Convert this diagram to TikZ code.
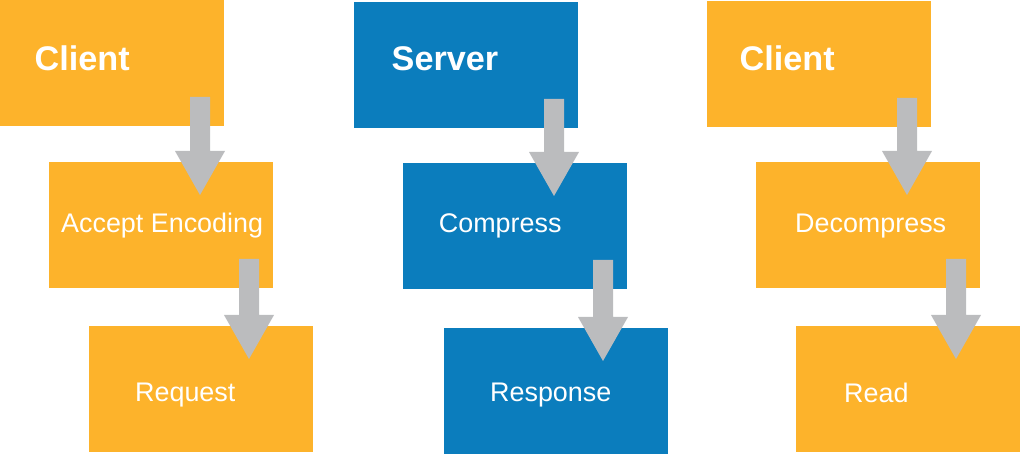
\documentclass[tikz,border=0pt]{standalone}
\usepackage{fontspec}
\setmainfont{Liberation Sans}
\usetikzlibrary{calc}
\definecolor{boxorange}{HTML}{FDB32B}
\definecolor{boxblue}{HTML}{0B7DBD}
\definecolor{arrowgray}{HTML}{BBBCBE}
\tikzset{
  box/.style={rectangle, inner sep=0pt, outer sep=0pt, minimum width=224pt, minimum height=126pt},
  obox/.style={box, fill=boxorange},
  bbox/.style={box, fill=boxblue},
  title/.style={anchor=base west, inner sep=0pt, text=white, font=\fontsize{34.2}{40}\selectfont\bfseries},
  step text/.style={anchor=base west, inner sep=0pt, text=white, font=\fontsize{26.9}{32}\selectfont},
  blk/.style={fill=arrowgray}
}
\newcommand\blkarrow[2]{%
  \fill[blk] ($(#1.south east)+(-34,-29)$) -- ($(#1.south east)+(-14,-29)$)
    -- ($(#1.south east |- #2.north)+(-14,-11)$) -- ($(#1.south east |- #2.north)+(1,-11)$)
    -- ($(#1.south east |- #2.north)+(-24,33)$) -- ($(#1.south east |- #2.north)+(-49,-11)$)
    -- ($(#1.south east |- #2.north)+(-34,-11)$) -- cycle;}
\begin{document}
\begin{tikzpicture}[x=1pt, y=-1pt]
\useasboundingbox (0,0) rectangle (1021,454);
% column 1
\node[obox] (c1) at (112,63) {};
\node[obox] (ae) at (161,225) {};
\node[obox] (rq) at (201,389) {};
% column 2
\node[bbox] (sv) at (466,65) {};
\node[bbox] (cp) at (515,226) {};
\node[bbox] (rs) at (556,391) {};
% column 3
\node[obox] (c2) at (819,64) {};
\node[obox] (dc) at (868,225) {};
\node[obox] (rd) at (908,389) {};
% texts
\node[title] (t1) at (34.5,71) {Client};
\node[title] (t2) at (391.5,71) {Server};
\node[title] (t3) at (739.5,71) {Client};
\node[step text] (l1) at (61,233) {Accept Encoding};
\node[step text] (l2) at (135,402) {Request};
\node[step text] (l3) at (438.7,233) {Compress};
\node[step text] (l4) at (490,402) {Response};
\node[step text] (l5) at (795,233) {Decompress};
\node[step text] (l6) at (844,403) {Read};
% arrows
\blkarrow{c1}{ae}
\blkarrow{ae}{rq}
\blkarrow{sv}{cp}
\blkarrow{cp}{rs}
\blkarrow{c2}{dc}
\blkarrow{dc}{rd}
\end{tikzpicture}
\end{document}
